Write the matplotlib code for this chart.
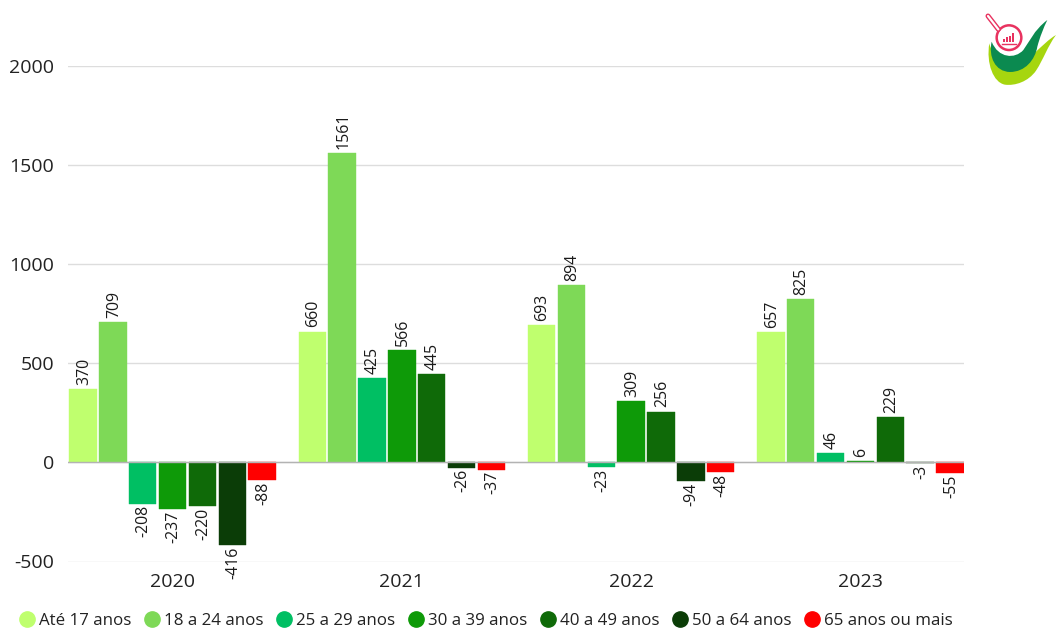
import matplotlib

matplotlib.use("Agg")
import matplotlib.pyplot as plt
import numpy as np
from matplotlib.lines import Line2D
from matplotlib.patches import Circle, PathPatch, Rectangle
from matplotlib.path import Path

W, H = 1056, 628
plt.rcParams["font.family"] = ["Open Sans", "DejaVu Sans"]
plt.rcParams["axes.unicode_minus"] = False

years = ["2020", "2021", "2022", "2023"]
faixas = ["Até 17 anos", "18 a 24 anos", "25 a 29 anos", "30 a 39 anos",
          "40 a 49 anos", "50 a 64 anos", "65 anos ou mais"]
cores = ["#BFFF6E", "#7ED957", "#00BF63", "#0E9A08", "#0F6A08", "#0B3D07", "#FF0000"]

ate_17 = [370, 660, 693, 657]
de_18_24 = [709, 1561, 894, 825]
de_25_29 = [-208, 425, -23, 46]
de_30_39 = [-237, 566, 309, 6]
de_40_49 = [-220, 445, 256, 229]
de_50_64 = [-416, -26, -94, -3]
mais_65 = [-88, -37, -48, -55]
series = [ate_17, de_18_24, de_25_29, de_30_39, de_40_49, de_50_64, mais_65]

fig = plt.figure(figsize=(W / 100, H / 100), dpi=100, facecolor="white")
ax = fig.add_axes([68 / W, 1 - 561.5 / H, 896 / W, (561.5 - 66) / H])

x = np.arange(len(years))
step = 0.1302
larg = 0.12
for i, (vals, cor) in enumerate(zip(series, cores)):
    pos = x + (i - 3) * step
    ax.bar(pos, vals, width=larg, color=cor, edgecolor=cor, linewidth=0.3, zorder=3,
           joinstyle="round")
    for p, v in zip(pos, vals):
        ax.annotate(str(v), (p, v), xytext=(0.7, 3 if v >= 0 else -1), textcoords="offset points",
                    rotation=90, ha="center", va="bottom" if v >= 0 else "top",
                    fontsize=11.4, color="#1a1a1a", annotation_clip=False, zorder=4)

ax.set_xlim(-0.456, 3.4516)
ax.set_ylim(-500, 2000)
ax.set_yticks([-500, 0, 500, 1000, 1500, 2000])
ax.set_xticks(x)
ax.set_xticklabels(years)
ax.tick_params(axis="both", length=0, labelsize=14, labelcolor="#222222")
ax.tick_params(axis="y", pad=10)
ax.tick_params(axis="x", pad=8)
ax.grid(axis="y", color="#dddddd", lw=1, zorder=0)
ax.axhline(0, color="#b3b3b3", lw=1, zorder=5)
for s in ax.spines.values():
    s.set_visible(False)

# legenda com bolinhas
handles = [Line2D([], [], ls="", marker="o", ms=11, color=c) for c in cores]
fig.legend(handles, faixas, loc="center left", bbox_to_anchor=(19 / W, 1 - 621 / H), ncol=7,
           frameon=False, fontsize=12.2, labelcolor="#222222", handlelength=1.0,
           handletextpad=0.2, columnspacing=0.72, borderpad=0, borderaxespad=0)

# logo (canto superior direito), coordenadas em pixels do recorte
logo = fig.add_axes([960 / W, 1 - 96 / H, 96 / W, 96 / H])
logo.set_xlim(0, 288)
logo.set_ylim(288, 0)
logo.axis("off")
C = Path.CURVE4
claro = Path(
    [(288, 105), (262, 140), (252, 175), (228, 212), (205, 245), (165, 258), (135, 254),
     (100, 248), (78, 190), (88, 130), (95, 165), (130, 190), (170, 190),
     (205, 190), (245, 130), (288, 105)],
    [Path.MOVETO, C, C, C, C, C, C, C, C, C, C, C, C, C, C, C],
)
escuro = Path(
    [(262, 60), (222, 90), (205, 130), (190, 150), (165, 178), (115, 175), (95, 125),
     (85, 170), (105, 215), (150, 216), (195, 216), (225, 180), (232, 140),
     (240, 110), (250, 85), (262, 60)],
    [Path.MOVETO, C, C, C, C, C, C, C, C, C, C, C, C, C, C, C],
)
logo.add_patch(PathPatch(claro, fc="#A6D60F", ec="none"))
logo.add_patch(PathPatch(escuro, fc="#0B8A50", ec="none"))
rosa = "#E8325F"
logo.add_patch(Circle((147, 113), 37, fc="white", ec=rosa, lw=1.8))
logo.plot([115, 84], [88, 48], color=rosa, lw=3.6, solid_capstyle="round")
logo.plot([115, 84], [88, 48], color="white", lw=1.6, solid_capstyle="round")
for bx, bh in zip([129, 138, 147, 156], [10, 15, 20, 27]):
    logo.add_patch(Rectangle((bx, 127 - bh), 6, bh, fc=rosa, ec="none"))
logo.plot([126, 168], [131, 131], color=rosa, lw=1)

fig.savefig("out.png", dpi=100)
